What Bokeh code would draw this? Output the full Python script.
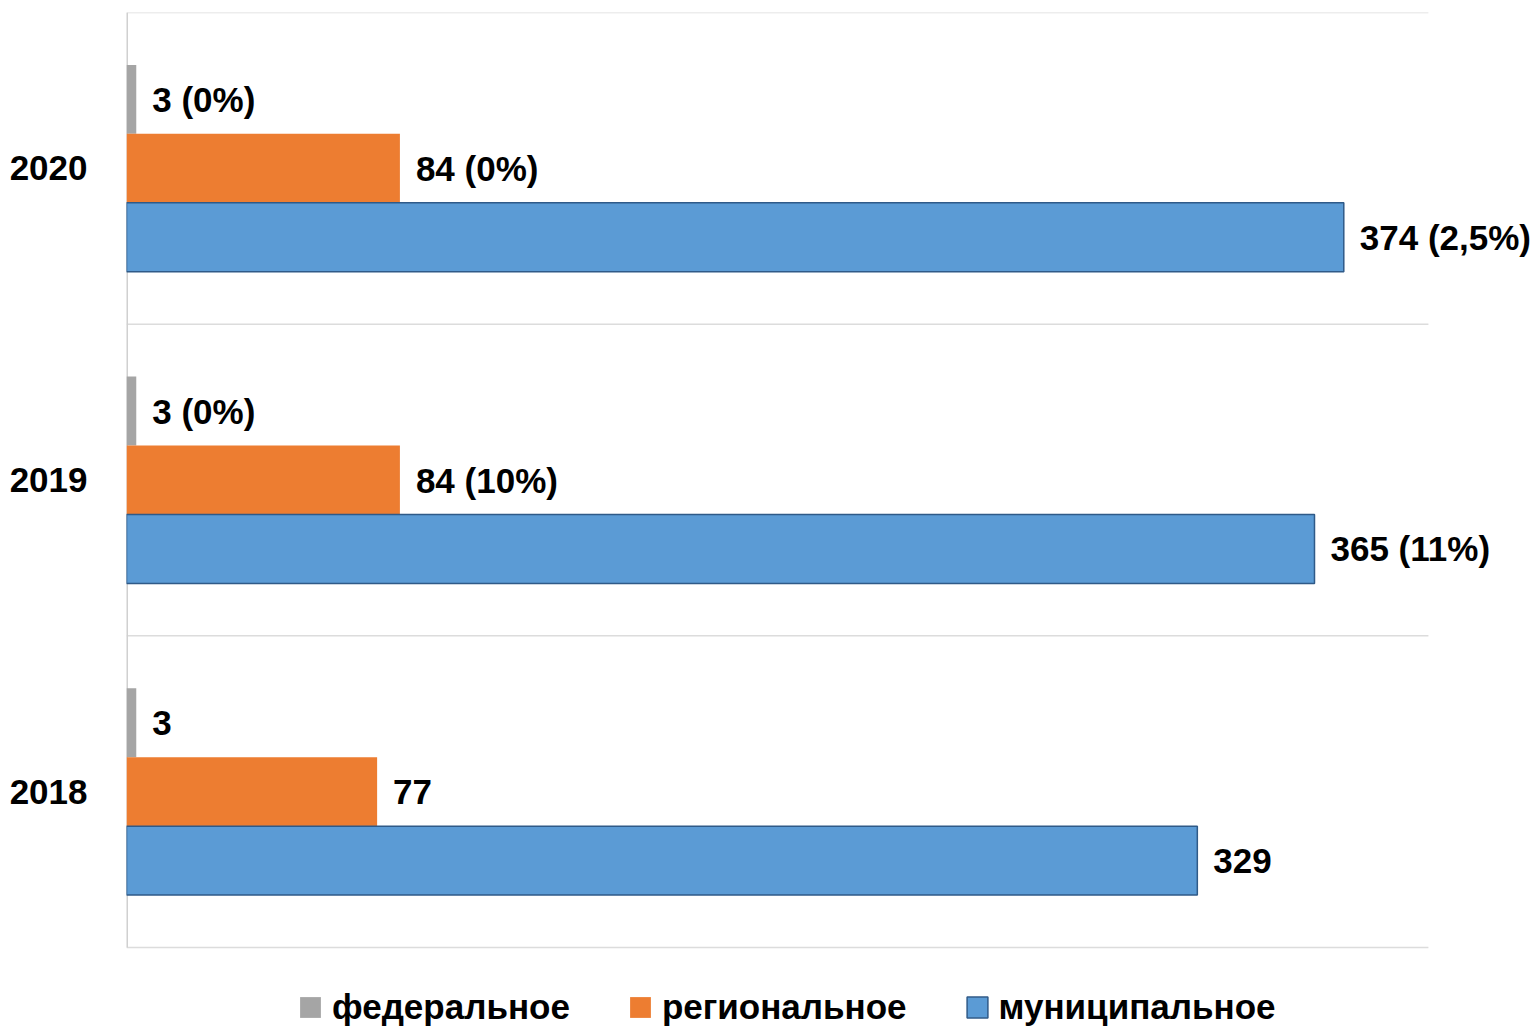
from bokeh.plotting import figure
from bokeh.models import ColumnDataSource, Legend, LegendItem, FixedTicker, Range1d
from bokeh.embed import file_html
from bokeh.resources import INLINE
from bokeh.core.properties import value

years = ["2018", "2019", "2020"]
federal = [3, 3, 3]
regional = [77, 84, 84]
municipal = [329, 365, 374]
federal_labels = ["3", "3 (0%)", "3 (0%)"]
regional_labels = ["77", "84 (10%)", "84 (0%)"]
municipal_labels = ["329", "365 (11%)", "374 (2,5%)"]
series_names = ["федеральное", "региональное", "муниципальное"]

FONT = "Liberation Sans"
FS = "35px"
BAR_H = 0.2212
X_MAX = 400
pos = list(range(len(years)))
bounds = [i - 0.5 for i in range(len(years) + 1)]

p = figure(width=1535, height=1030, x_range=Range1d(0, 432.9), y_range=Range1d(-0.7663, 2.5),
           output_backend="svg", toolbar_location=None,
           min_border_left=126, min_border_right=0, min_border_top=12, min_border_bottom=0)
p.outline_line_color = None
p.background_fill_color = "white"
p.border_fill_color = "white"

# category boundary grid lines and left axis line
p.segment(x0=[0] * len(bounds), x1=[X_MAX] * len(bounds), y0=bounds, y1=bounds,
          line_color="#DCDCDC", line_width=1.5)
p.segment(x0=[0], x1=[0], y0=[bounds[0]], y1=[bounds[-1]], line_color="#D0D0D0", line_width=3)

series = [
    (federal, federal_labels, BAR_H, "#A5A5A5", None),
    (regional, regional_labels, 0.0, "#ED7D31", None),
    (municipal, municipal_labels, -BAR_H, "#5B9BD5", "#2F5A88"),
]
renderers = []
for vals, labs, off, col, lc in series:
    src = ColumnDataSource(dict(y=[i + off for i in pos], v=vals, lab=labs))
    r = p.hbar(y="y", left=0, right="v", height=BAR_H, source=src,
               fill_color=col, line_color=lc, line_width=1.5 if lc else 0)
    renderers.append(r)
    p.text(x="v", y="y", text="lab", source=src, x_offset=16, text_baseline="middle",
           text_align="left", text_font=value(FONT), text_font_style="bold",
           text_font_size=FS, text_color="black")

p.xaxis.visible = False
p.xgrid.visible = False
p.ygrid.visible = False

ax = p.yaxis[0]
ax.ticker = FixedTicker(ticks=pos)
ax.major_label_overrides = {i: y for i, y in zip(pos, years)}
ax.major_tick_line_color = None
ax.minor_tick_line_color = None
ax.axis_line_color = None
ax.major_label_standoff = 33
ax.major_label_text_font = FONT
ax.major_label_text_font_style = "bold"
ax.major_label_text_font_size = FS
ax.major_label_text_color = "black"

legend = Legend(items=[LegendItem(label=n, renderers=[r]) for n, r in zip(series_names, renderers)],
                orientation="horizontal", location=(171, 3),
                glyph_width=26, glyph_height=26, label_standoff=9, spacing=57,
                padding=0, margin=0, border_line_color=None, background_fill_alpha=0,
                label_text_font=FONT, label_text_font_style="bold",
                label_text_font_size=FS, label_text_color="black")
p.add_layout(legend, "center")

open("out.html", "w").write(file_html(p, INLINE))
